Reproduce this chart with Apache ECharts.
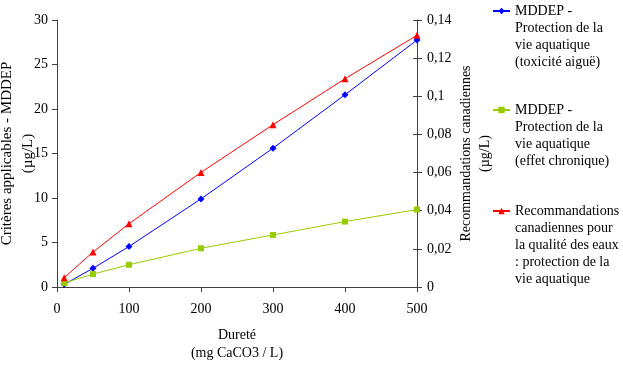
<!DOCTYPE html>
<html style="height: 100%">
<head>
    <meta charset="utf-8">
    <title>Dureté</title>
    <script src="https://cdn.jsdelivr.net/npm/echarts@6/dist/echarts.min.js"></script>
</head>
<body style="height: 100%; margin: 0; background: #fff">
<div id="container" style="width: 623px; height: 366px"></div>
<script type="text/javascript">
// dureté (mg CaCO3 / L)
var hardness = [10, 50, 100, 200, 300, 400, 500];
// MDDEP - toxicité aiguë (µg/L, axe gauche)
var acute = [0.3, 2.1, 4.55, 9.9, 15.6, 21.6, 27.75];
// MDDEP - effet chronique (µg/L, axe gauche)
var chronic = [0.45, 1.45, 2.5, 4.35, 5.85, 7.35, 8.7];
// Recommandations canadiennes (µg/L, axe droit)
var canada = [0.0049, 0.0183, 0.0332, 0.0601, 0.0851, 0.1092, 0.132];

var names = [
    'MDDEP -\nProtection de la\nvie aquatique\n(toxicité aiguë)',
    'MDDEP -\nProtection de la\nvie aquatique\n(effet chronique)',
    'Recommandations\ncanadiennes pour\nla qualité des eaux\n: protection de la\nvie aquatique'
];

var font = 'Liberation Serif';
var axisColor = '#404040';

function pairs(ys) {
    var out = [];
    for (var i = 0; i < hardness.length; i++) out.push([hardness[i], ys[i]]);
    return out;
}

// the icon sits on the first text line: pad blank lines above
function padName(n) {
    var lines = n.split('\n').length;
    return new Array(lines).join('\n') + n;
}

var lh = 17;
function legendAt(name, iconY) {
    var lines = name.split('\n').length * 2 - 1;
    return {
        data: [name],
        orient: 'vertical',
        left: 492,
        top: iconY - lines * lh / 2,
        padding: 0,
        itemWidth: 17,
        itemHeight: 8,
        formatter: padName,
        textStyle: {fontFamily: font, fontSize: 14, lineHeight: lh, color: '#000'}
    };
}

var dom = document.getElementById('container');
var myChart = echarts.init(dom);

var option = {
    animation: false,
    backgroundColor: '#fff',
    legend: [
        legendAt(names[0], 11),
        legendAt(names[1], 110),
        legendAt(names[2], 211)
    ],
    grid: {left: 57, right: 206, top: 20, bottom: 79, outerBoundsMode: 'none', containLabel: false},
    xAxis: {
        type: 'value',
        min: 0,
        max: 500,
        interval: 100,
        name: 'Dureté\n(mg CaCO3 / L)',
        nameLocation: 'middle',
        nameGap: 39,
        nameMoveOverlap: false,
        nameTextStyle: {fontFamily: font, fontSize: 14, lineHeight: 18, color: '#000'},
        axisLine: {lineStyle: {color: axisColor}},
        axisTick: {length: 5, lineStyle: {color: axisColor}},
        axisLabel: {fontFamily: font, fontSize: 14, color: '#000', margin: 15},
        splitLine: {show: false}
    },
    yAxis: [{
        type: 'value',
        min: 0,
        max: 30,
        interval: 5,
        name: 'Critères applicables - MDDEP\n(µg/L)',
        nameLocation: 'middle',
        nameRotate: 90,
        nameGap: 18,
        nameMoveOverlap: false,
        nameTextStyle: {fontFamily: font, fontSize: 15, lineHeight: 21, color: '#000'},
        axisLine: {show: true, lineStyle: {color: axisColor}},
        axisTick: {show: true, length: 5, lineStyle: {color: axisColor}},
        axisLabel: {fontFamily: font, fontSize: 14, color: '#000', margin: 9},
        splitLine: {show: false}
    }, {
        type: 'value',
        position: 'right',
        min: 0,
        max: 0.14,
        interval: 0.02,
        name: 'Recommandations canadiennes\n(µg/L)',
        nameLocation: 'middle',
        nameRotate: 90,
        nameGap: 40,
        nameMoveOverlap: false,
        nameTextStyle: {fontFamily: font, fontSize: 14, lineHeight: 19, color: '#000'},
        axisLine: {show: true, lineStyle: {color: axisColor}},
        axisTick: {show: true, length: 5, lineStyle: {color: axisColor}},
        axisLabel: {
            fontFamily: font, fontSize: 14, color: '#000', margin: 10,
            formatter: function (v) {
                return String(parseFloat(v.toFixed(2))).replace('.', ',');
            }
        },
        splitLine: {show: false}
    }, {
        // inner half of the crossing ticks on the right axis
        type: 'value',
        position: 'right',
        min: 0,
        max: 0.14,
        interval: 0.02,
        axisLine: {show: false},
        axisTick: {show: true, inside: true, length: 4, lineStyle: {color: axisColor}},
        axisLabel: {show: false},
        splitLine: {show: false}
    }],
    series: [{
        name: names[0],
        type: 'line',
        data: pairs(acute),
        symbol: 'diamond',
        symbolSize: 7,
        color: '#0000ff',
        lineStyle: {width: 1}
    }, {
        name: names[1],
        type: 'line',
        data: pairs(chronic),
        symbol: 'rect',
        symbolSize: 6,
        color: '#99cc00',
        lineStyle: {width: 1}
    }, {
        name: names[2],
        type: 'line',
        yAxisIndex: 1,
        data: pairs(canada),
        symbol: 'triangle',
        symbolSize: 7,
        color: '#ff0000',
        lineStyle: {width: 1}
    }]
};

myChart.setOption(option);
</script>
</body>
</html>
